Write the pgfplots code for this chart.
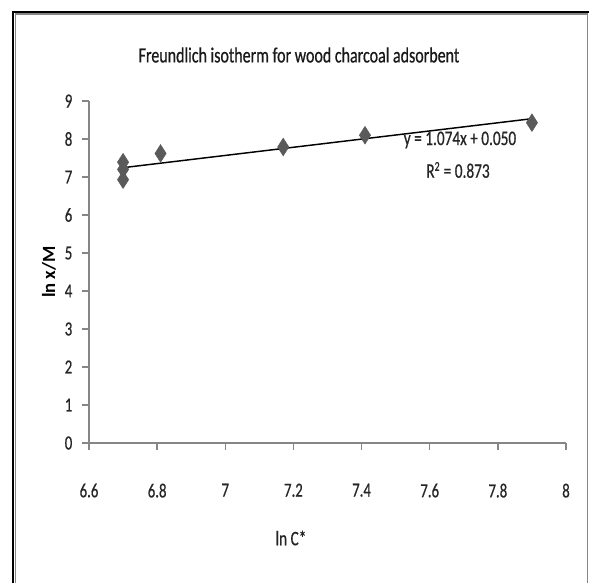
\documentclass[border=0pt]{standalone}
\usepackage{pgfplots}
\pgfplotsset{compat=1.18}
\usepackage{fontspec}
\setmainfont{Carlito}
\newfontfamily\cond[FakeStretch=0.74,FakeBold=0.6]{Carlito}
\definecolor{axgray}{HTML}{868686}
\definecolor{mk}{HTML}{5A5A5A}
\begin{document}
\begin{tikzpicture}[x=0.75pt,y=0.75pt]
\path[use as bounding box] (0,0) rectangle (589,583);
\fill[white] (0,0) rectangle (589,583);
\draw[black,line width=2.2pt] (13,0) -- (13,571) -- (589,571);
\draw[axgray,line width=0.8pt] (15.5,0) -- (15.5,569) -- (587.5,569) -- (587.5,0);
\begin{axis}[
  at={(89*0.75pt,140*0.75pt)}, anchor=south west,
  scale only axis, width=357.75pt, height=256.5pt,
  xmin=6.6, xmax=8, ymin=0, ymax=9,
  xtick={6.6,6.8,7,7.2,7.4,7.6,7.8,8},
  xticklabels={6.6,6.8,7,7.2,7.4,7.6,7.8,8},
  ytick={0,1,...,9},
  axis lines*=left,
  axis line style={axgray,line width=1.2pt,-},
  tick style={axgray,line width=1pt},
  major tick length=5pt,
  tick align=outside,
  xtick pos=bottom, ytick pos=left,
  /pgf/number format/assume math mode=true,
  ticklabel style={font=\cond\fontsize{15}{17}\selectfont, text=black!85},
  xticklabel style={yshift=-22pt},
  yticklabel style={xshift=-4pt},
  clip=false,
]
\addplot[black, line width=1.1pt, no marks] coordinates {(6.7,7.2458) (7.9,8.5346)};
\addplot[only marks, mark=diamond*, mark size=6.6pt, mark options={fill=mk,draw=mk,xscale=0.85}] coordinates {
(6.70,7.39) (6.70,7.20) (6.70,6.93) (6.81,7.62) (7.17,7.79) (7.41,8.10) (7.90,8.43)
};
\end{axis}
\node[font=\cond\fontsize{15.5}{17}\selectfont, text=black!85] at (460,443) {y = 1.074x + 0.050};
\node[font=\cond\fontsize{15.5}{17}\selectfont, text=black!85] at (458,413) {R\textsuperscript{\fontsize{10}{10}\selectfont 2} = 0.873};
\node[font=\cond\fontsize{16.2}{18}\selectfont, text=black!90] at (299,528) {Freundlich isotherm for wood charcoal adsorbent};
\node[font=\cond\fontsize{15.5}{17}\selectfont, text=black!85] at (291,45) {ln C*};
\node[font=\bfseries\fontsize{14}{16}\selectfont, rotate=90] at (49,311) {ln x/M};
\end{tikzpicture}
\end{document}
